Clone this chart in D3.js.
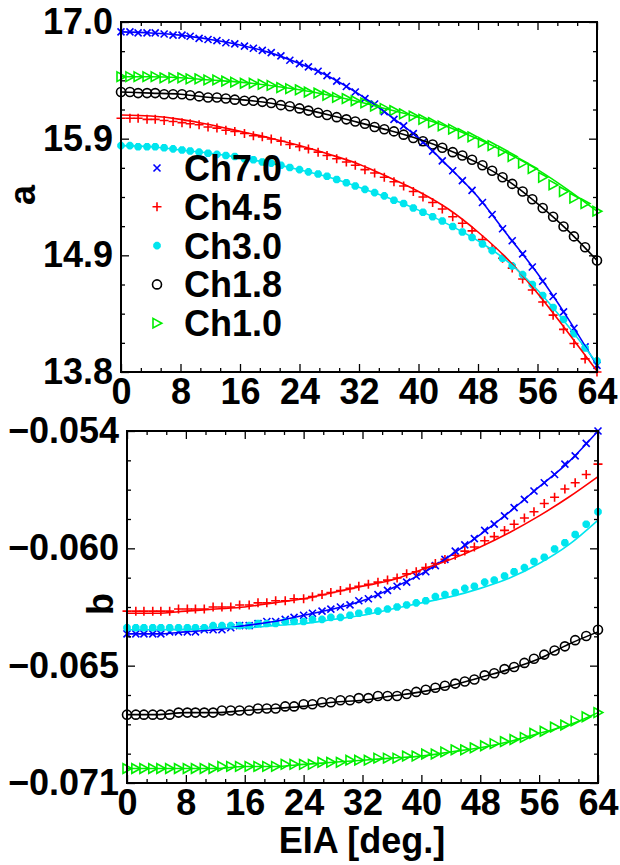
<!DOCTYPE html>
<html>
<head>
<meta charset="utf-8">
<script src="https://cdn.jsdelivr.net/npm/d3@7"></script>
<style>
body{margin:0;background:#fff;}
text{font-family:"Liberation Sans",Arial,Helvetica,sans-serif;font-weight:bold;fill:#000;}
.tick text{font-size:36px;}
</style>
</head>
<body>
<div id="chart"></div>
<script>
var width = 620;
var height = 865;

// channels, colours and marker kinds
var names = ['Ch7.0','Ch4.5','Ch3.0','Ch1.8','Ch1.0'];
var colors = ['#0000ff','#ff0000','#00e5ee','#000000','#00ee00'];
var marks = ['x','+','*','o','>'];

// EIA of the measured points
var eia = [0,1.2,2.3,3.5,4.6,5.8,7.0,8.2,9.3,10.5,11.7,12.9,14.1,15.3,16.6,17.8,19.0,20.2,21.5,22.7,
  24.0,25.2,26.5,27.7,29.0,30.3,31.5,32.8,34.1,35.4,36.7,38.0,39.3,40.6,41.9,43.2,44.6,45.9,47.2,48.6,
  49.9,51.3,52.6,54.0,55.3,56.7,58.1,59.5,60.9,62.4,64.0];
// EIA of the fitted curves
var fitEia = [0,4,8,12,16,20,24,28,32,36,40,44,48,52,56,60,64];

// coefficient a, points
var a70 = [16.91,16.91,16.90,16.90,16.90,16.89,16.88,16.88,16.87,16.85,
  16.84,16.83,16.81,16.80,16.78,16.76,16.74,16.72,16.69,16.65,
  16.62,16.59,16.55,16.51,16.46,16.41,16.36,16.30,16.25,16.18,
  16.11,16.05,15.98,15.90,15.82,15.73,15.64,15.55,15.46,15.35,
  15.24,15.11,15.00,14.88,14.76,14.63,14.49,14.35,14.20,14.03,13.86];
var a45 = [16.12,16.12,16.12,16.11,16.11,16.10,16.09,16.08,16.07,16.06,
  16.04,16.03,16.01,16.00,15.98,15.96,15.95,15.93,15.91,15.88,
  15.86,15.84,15.81,15.78,15.75,15.72,15.69,15.65,15.62,15.58,
  15.54,15.50,15.45,15.40,15.35,15.29,15.22,15.16,15.09,15.01,
  14.93,14.84,14.75,14.65,14.55,14.44,14.32,14.19,14.06,13.92,13.80];
var a30 = [15.87,15.87,15.86,15.86,15.86,15.85,15.84,15.83,15.82,15.81,
  15.80,15.79,15.78,15.77,15.75,15.74,15.72,15.71,15.69,15.67,
  15.65,15.63,15.61,15.59,15.56,15.53,15.50,15.47,15.44,15.41,
  15.37,15.34,15.30,15.26,15.22,15.18,15.13,15.08,15.03,14.97,
  14.91,14.84,14.77,14.69,14.60,14.50,14.39,14.28,14.15,14.02,13.90];
var a18 = [16.36,16.36,16.35,16.35,16.35,16.34,16.34,16.34,16.33,16.32,
  16.31,16.31,16.30,16.29,16.28,16.28,16.27,16.26,16.24,16.23,
  16.21,16.19,16.17,16.15,16.13,16.11,16.09,16.07,16.04,16.02,
  16.00,15.97,15.94,15.91,15.88,15.85,15.81,15.78,15.74,15.69,
  15.64,15.58,15.52,15.45,15.38,15.30,15.22,15.13,15.04,14.94,14.82];
var a10 = [16.50,16.50,16.50,16.50,16.50,16.49,16.49,16.49,16.48,16.48,
  16.47,16.47,16.46,16.45,16.44,16.44,16.43,16.42,16.40,16.39,
  16.38,16.36,16.35,16.33,16.31,16.30,16.28,16.26,16.23,16.21,
  16.19,16.16,16.14,16.11,16.08,16.05,16.02,15.98,15.95,15.90,
  15.87,15.82,15.77,15.71,15.66,15.58,15.51,15.45,15.39,15.34,15.27];

// coefficient a, fitted curves
var aFit70 = [16.91,16.90,16.88,16.84,16.79,16.72,16.62,16.50,16.34,16.15,15.94,15.68,15.40,15.05,14.70,14.30,13.86];
var aFit45 = [16.15,16.14,16.11,16.06,16.00,15.94,15.87,15.79,15.70,15.58,15.45,15.29,15.08,14.83,14.52,14.17,13.81];
var aFit30 = [15.87,15.86,15.83,15.80,15.76,15.71,15.65,15.58,15.49,15.39,15.28,15.15,15.00,14.81,14.55,14.23,13.88];
var aFit18 = [16.36,16.35,16.34,16.31,16.29,16.26,16.21,16.15,16.08,16.01,15.93,15.83,15.71,15.55,15.34,15.10,14.82];
var aFit10 = [16.50,16.50,16.49,16.47,16.45,16.42,16.38,16.33,16.27,16.20,16.13,16.04,15.93,15.80,15.65,15.47,15.27];

// coefficient b, points
var b70 = [-0.0638,-0.0638,-0.0638,-0.0638,-0.0638,-0.0637,-0.0637,-0.0637,-0.0637,-0.0636,
  -0.0636,-0.0636,-0.0635,-0.0634,-0.0634,-0.0633,-0.0632,-0.0632,-0.0631,-0.0630,
  -0.0629,-0.0628,-0.0627,-0.0626,-0.0625,-0.0624,-0.0622,-0.0621,-0.0619,-0.0617,
  -0.0615,-0.0613,-0.0610,-0.0608,-0.0605,-0.0602,-0.0598,-0.0595,-0.0592,-0.0588,
  -0.0585,-0.0581,-0.0577,-0.0573,-0.0569,-0.0565,-0.0561,-0.0556,-0.0552,-0.0546,-0.0540];
var b45 = [-0.0627,-0.0627,-0.0627,-0.0627,-0.0627,-0.0627,-0.0626,-0.0626,-0.0626,-0.0626,
  -0.0625,-0.0625,-0.0625,-0.0624,-0.0624,-0.0623,-0.0623,-0.0622,-0.0622,-0.0621,
  -0.0621,-0.0620,-0.0619,-0.0618,-0.0617,-0.0616,-0.0615,-0.0614,-0.0613,-0.0612,
  -0.0611,-0.0609,-0.0608,-0.0606,-0.0604,-0.0602,-0.0600,-0.0598,-0.0596,-0.0593,
  -0.0591,-0.0588,-0.0585,-0.0582,-0.0579,-0.0575,-0.0572,-0.0568,-0.0565,-0.0561,-0.0556];
var b30 = [-0.0635,-0.0635,-0.0635,-0.0635,-0.0635,-0.0635,-0.0635,-0.0635,-0.0635,-0.0635,
  -0.0634,-0.0634,-0.0634,-0.0634,-0.0634,-0.0633,-0.0633,-0.0633,-0.0632,-0.0632,
  -0.0632,-0.0631,-0.0631,-0.0630,-0.0630,-0.0629,-0.0628,-0.0627,-0.0627,-0.0626,
  -0.0625,-0.0624,-0.0623,-0.0622,-0.0620,-0.0619,-0.0618,-0.0616,-0.0615,-0.0613,
  -0.0612,-0.0610,-0.0608,-0.0606,-0.0603,-0.0601,-0.0597,-0.0594,-0.0590,-0.0585,-0.0579];
var b18 = [-0.0677,-0.0677,-0.0677,-0.0677,-0.0677,-0.0677,-0.0676,-0.0676,-0.0676,-0.0676,
  -0.0676,-0.0675,-0.0675,-0.0675,-0.0675,-0.0674,-0.0674,-0.0674,-0.0673,-0.0673,
  -0.0672,-0.0672,-0.0671,-0.0671,-0.0670,-0.0670,-0.0669,-0.0669,-0.0668,-0.0668,
  -0.0668,-0.0667,-0.0666,-0.0665,-0.0664,-0.0663,-0.0662,-0.0661,-0.0660,-0.0658,
  -0.0657,-0.0655,-0.0654,-0.0652,-0.0650,-0.0648,-0.0646,-0.0644,-0.0641,-0.0639,-0.0636];
var b10 = [-0.0703,-0.0703,-0.0703,-0.0703,-0.0703,-0.0703,-0.0703,-0.0703,-0.0703,-0.0703,
  -0.0703,-0.0702,-0.0702,-0.0702,-0.0702,-0.0702,-0.0702,-0.0702,-0.0701,-0.0701,
  -0.0701,-0.0701,-0.0700,-0.0700,-0.0700,-0.0699,-0.0699,-0.0699,-0.0698,-0.0698,
  -0.0698,-0.0697,-0.0697,-0.0696,-0.0696,-0.0695,-0.0694,-0.0694,-0.0693,-0.0692,
  -0.0691,-0.0690,-0.0689,-0.0688,-0.0686,-0.0685,-0.0683,-0.0682,-0.0680,-0.0678,-0.0676];

// coefficient b, fitted curves
var bFit70 = [-0.0638,-0.0638,-0.0637,-0.0636,-0.0634,-0.0632,-0.0629,-0.0626,-0.0622,-0.0616,-0.0609,-0.0600,-0.0590,-0.0579,-0.0567,-0.0555,-0.0540];
var bFit45 = [-0.0628,-0.0628,-0.0627,-0.0626,-0.0625,-0.0623,-0.0621,-0.0618,-0.0615,-0.0612,-0.0607,-0.0602,-0.0596,-0.0589,-0.0581,-0.0572,-0.0562];
var bFit30 = [-0.0636,-0.0636,-0.0636,-0.0635,-0.0635,-0.0634,-0.0633,-0.0631,-0.0629,-0.0626,-0.0623,-0.0620,-0.0616,-0.0611,-0.0604,-0.0595,-0.0583];
var bFit18 = [-0.0677,-0.0677,-0.0676,-0.0676,-0.0675,-0.0674,-0.0673,-0.0671,-0.0670,-0.0668,-0.0666,-0.0663,-0.0659,-0.0655,-0.0650,-0.0643,-0.0637];
var bFit10 = [-0.0703,-0.0703,-0.0703,-0.0703,-0.0702,-0.0702,-0.0701,-0.0700,-0.0699,-0.0698,-0.0697,-0.0695,-0.0693,-0.0690,-0.0686,-0.0682,-0.0676];

// ticks
var xTicks = [0,8,16,24,32,40,48,56,64];
var aTicks = [13.8,14.8667,15.9333,17.0];
var aTickLabels = ['13.8','14.9','15.9','17.0'];
var bTicks = [-0.071,-0.065333,-0.059667,-0.054];
var bTickLabels = ['\u22120.071','\u22120.065','\u22120.060','\u22120.054'];

var canvas = d3.select('#chart')
  .append('svg')
  .attr('width',width)
  .attr('height',height);

function markerPath(type){
  if(type == 'x') return 'M-3.5,-3.5L3.5,3.5M-3.5,3.5L3.5,-3.5';
  if(type == '+') return 'M-4.5,0L4.5,0M0,-4.5L0,4.5';
  if(type == '*') return 'M-3.8,0L3.8,0M0,-3.8L0,3.8M-2.7,-2.7L2.7,2.7M-2.7,2.7L2.7,-2.7';
  if(type == 'o') return 'M4.5,0A4.5,4.5 0 1,1 -4.5,0A4.5,4.5 0 1,1 4.5,0Z';
  return 'M-4,-4.8L4.8,0L-4,4.8Z';
}
function markerWidth(type){
  return type == '*' ? 2.8 : 1.6;
}

function drawPanel(box, yDomain, yTicks, yTickLabels, points, fits){
  var x = d3.scaleLinear().domain([0,64]).range([box.left, box.right]);
  var y = d3.scaleLinear().domain(yDomain).range([box.bottom, box.top]);
  var g = canvas.append('g');

  // minor tick positions
  var xMinor = d3.range(0,64.001,8/3).filter(function(v){ return Math.abs(v/8 - Math.round(v/8)) > 1e-6; });
  var ystep = (yDomain[1]-yDomain[0])/12;
  var yMinor = d3.range(1,12).filter(function(i){ return i % 4 != 0; }).map(function(i){ return yDomain[0] + i*ystep; });

  // markers
  points.forEach(function(vals, k){
    g.append('g')
      .selectAll('path')
      .data(vals)
      .enter()
      .append('path')
      .attr('transform', function(d,i){ return 'translate('+x(eia[i])+','+y(d)+')'; })
      .attr('d', markerPath(marks[k]))
      .attr('fill','none')
      .attr('stroke', colors[k])
      .attr('stroke-width', markerWidth(marks[k]));
  });
  // fitted curves
  var line = d3.line()
    .x(function(d,i){ return x(fitEia[i]); })
    .y(function(d){ return y(d); })
    .curve(d3.curveMonotoneX);
  fits.forEach(function(vals, k){
    g.append('path')
      .attr('d', line(vals))
      .attr('fill','none')
      .attr('stroke', colors[k])
      .attr('stroke-width',1.6);
  });

  // axes, ticks pointing in
  var bottomAxis = g.append('g').attr('transform','translate(0,'+box.bottom+')')
    .call(d3.axisBottom(x).tickValues(xTicks).tickSizeInner(-8).tickSizeOuter(0).tickPadding(6).tickFormat(d3.format('d')));
  g.append('g').attr('transform','translate('+box.left+',0)')
    .call(d3.axisLeft(y).tickValues(yTicks).tickSizeInner(-8).tickSizeOuter(0).tickPadding(8)
      .tickFormat(function(d,i){ return yTickLabels[i]; }));
  g.append('g').attr('transform','translate(0,'+box.top+')')
    .call(d3.axisTop(x).tickValues(xTicks).tickSizeInner(-8).tickSizeOuter(0).tickFormat(''));
  g.append('g').attr('transform','translate('+box.right+',0)')
    .call(d3.axisRight(y).tickValues(yTicks).tickSizeInner(-8).tickSizeOuter(0).tickFormat(''));
  // minor ticks
  g.append('g').attr('transform','translate(0,'+box.bottom+')')
    .call(d3.axisBottom(x).tickValues(xMinor).tickSizeInner(-4).tickSizeOuter(0).tickFormat(''));
  g.append('g').attr('transform','translate(0,'+box.top+')')
    .call(d3.axisTop(x).tickValues(xMinor).tickSizeInner(-4).tickSizeOuter(0).tickFormat(''));
  g.append('g').attr('transform','translate('+box.left+',0)')
    .call(d3.axisLeft(y).tickValues(yMinor).tickSizeInner(-4).tickSizeOuter(0).tickFormat(''));
  g.append('g').attr('transform','translate('+box.right+',0)')
    .call(d3.axisRight(y).tickValues(yMinor).tickSizeInner(-4).tickSizeOuter(0).tickFormat(''));
  g.selectAll('.domain').remove();
  g.selectAll('.tick line').attr('stroke-width',1.3);
  bottomAxis.selectAll('text').attr('dy','0.72em');

  // frame
  g.append('rect')
    .attr('x',box.left).attr('y',box.top)
    .attr('width',box.right-box.left).attr('height',box.bottom-box.top)
    .attr('fill','none').attr('stroke','#000').attr('stroke-width',2);
  return {x:x, y:y};
}

drawPanel({left:121,right:597,top:22,bottom:372}, [13.8,17.0], aTicks, aTickLabels,
  [a70,a45,a30,a18,a10], [aFit70,aFit45,aFit30,aFit18,aFit10]);
drawPanel({left:127,right:598,top:431,bottom:783}, [-0.071,-0.054], bTicks, bTickLabels,
  [b70,b45,b30,b18,b10], [bFit70,bFit45,bFit30,bFit18,bFit10]);

// legend (no box)
var legend = canvas.append('g');
names.forEach(function(n, k){
  var ly = 168 + k*38.8;
  legend.append('path')
    .attr('transform','translate(157,'+ly+')')
    .attr('d', markerPath(marks[k]))
    .attr('fill','none')
    .attr('stroke', colors[k])
    .attr('stroke-width', markerWidth(marks[k]));
  legend.append('text')
    .text(n)
    .attr('x',184)
    .attr('y',ly)
    .attr('dy','0.36em')
    .style('font-size','36px');
});

// axis titles
canvas.append('text')
  .text('a')
  .attr('text-anchor','middle')
  .attr('transform','translate(22,195)rotate(-90)')
  .attr('dy','0.36em')
  .style('font-size','36px');
canvas.append('text')
  .text('b')
  .attr('text-anchor','middle')
  .attr('transform','translate(100,604)rotate(-90)')
  .attr('dy','0.36em')
  .style('font-size','36px');
canvas.append('text')
  .text('EIA [deg.]')
  .attr('text-anchor','middle')
  .attr('x',362)
  .attr('y',840)
  .attr('dy','0.36em')
  .style('font-size','36px');
</script>
</body>
</html>
